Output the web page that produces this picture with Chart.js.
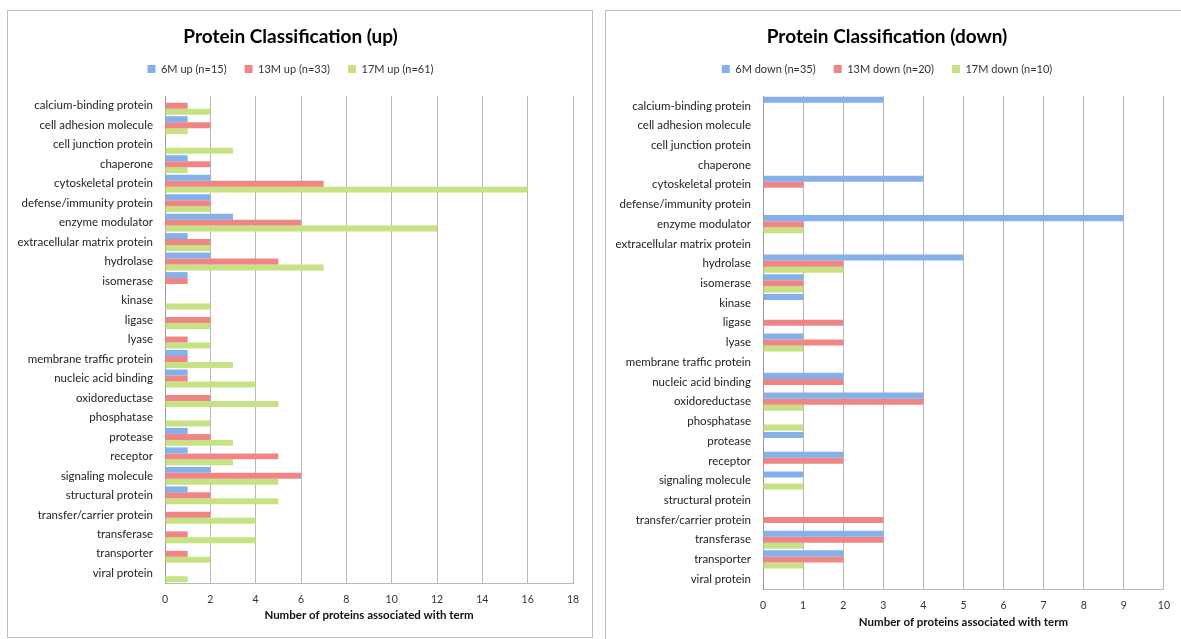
<!DOCTYPE html>
<html>
<head>
<meta charset="utf-8">
<script src="https://cdn.jsdelivr.net/npm/chart.js@4/dist/chart.umd.min.js"></script>
<style>
  html, body { margin: 0; padding: 0; background: #fff; }
  body { width: 1181px; height: 639px; position: relative; overflow: hidden; }
  .panel { position: absolute; border: 1px solid #bdbdbd; box-sizing: border-box; }
  #panel-up { left: 7px; top: 10px; width: 586px; height: 628px; }
  #panel-down { left: 605px; top: 10px; width: 590px; height: 640px; }
  .panel canvas { position: absolute; left: 0; top: 0; }
</style>
</head>
<body>
<div class="panel" id="panel-up"><canvas id="chart-up" width="584" height="626"></canvas></div>
<div class="panel" id="panel-down"><canvas id="chart-down" width="574" height="638"></canvas></div>
<script>
// categories, top to bottom
var categories = [
  'calcium-binding protein', 'cell adhesion molecule', 'cell junction protein', 'chaperone',
  'cytoskeletal protein', 'defense/immunity protein', 'enzyme modulator', 'extracellular matrix protein',
  'hydrolase', 'isomerase', 'kinase', 'ligase', 'lyase', 'membrane traffic protein',
  'nucleic acid binding', 'oxidoreductase', 'phosphatase', 'protease', 'receptor',
  'signaling molecule', 'structural protein', 'transfer/carrier protein', 'transferase',
  'transporter', 'viral protein'
];

// up-regulated
var up6M  = [0, 1, 0, 1, 2, 2, 3, 1, 2, 1, 0, 0, 0, 1, 1, 0, 0, 1, 1, 2, 1, 0, 0, 0, 0];
var up13M = [1, 2, 0, 2, 7, 2, 6, 2, 5, 1, 0, 2, 1, 1, 1, 2, 0, 2, 5, 6, 2, 2, 1, 1, 0];
var up17M = [2, 1, 3, 1, 16, 2, 12, 2, 7, 0, 2, 2, 2, 3, 4, 5, 2, 3, 3, 5, 5, 4, 4, 2, 1];

// down-regulated
var down6M  = [3, 0, 0, 0, 4, 0, 9, 0, 5, 1, 1, 0, 1, 0, 2, 4, 0, 1, 2, 1, 0, 0, 3, 2, 0];
var down13M = [0, 0, 0, 0, 1, 0, 1, 0, 2, 1, 0, 2, 2, 0, 2, 4, 0, 0, 2, 0, 0, 3, 3, 2, 0];
var down17M = [0, 0, 0, 0, 0, 0, 1, 0, 2, 1, 0, 0, 1, 0, 0, 1, 1, 0, 0, 1, 0, 0, 1, 1, 0];

var upLabels = ['6M up (n=15)', '13M up (n=33)', '17M up (n=61)'];
var downLabels = ['6M down (n=35)', '13M down (n=20)', '17M down (n=10)'];

var upTicks = { max: 18, step: 2 };
var downTicks = { max: 10, step: 1 };

var COLORS = ['#86b0ea', '#ef8585', '#c6e283'];
var DARK = ['#5f8fd6', '#d86262', '#a5c85e'];
var FONT = 'Lato, "Open Sans", sans-serif';

// bars get a light-to-dark band across their thickness
function barFill(i) {
  return function (ctx) {
    var el = ctx.element;
    if (!el || el.y === undefined || !el.height) return COLORS[i];
    var c = ctx.chart.ctx;
    var h = el.height / 2;
    var g = c.createLinearGradient(0, el.y - h, 0, el.y + h);
    g.addColorStop(0, COLORS[i]);
    g.addColorStop(0.5, COLORS[i]);
    g.addColorStop(1, DARK[i]);
    return g;
  };
}

var legendGap = {
  id: 'legendGap',
  beforeInit: function (chart) {
    var fit = chart.legend.fit;
    chart.legend.fit = function () {
      fit.bind(chart.legend)();
      this.height += 11.5;
    };
  }
};

function makeChart(id, title, labels, series, ticks, xHeight, rightPad, bottomPad) {
  var datasets = series.map(function (vals, i) {
    return {
      label: labels[i],
      data: vals,
      backgroundColor: barFill(i),
      borderWidth: 0,
      categoryPercentage: 0.92,
      barPercentage: 1.0
    };
  });
  return new Chart(document.getElementById(id), {
    type: 'bar',
    data: { labels: categories, datasets: datasets },
    plugins: [legendGap],
    options: {
      indexAxis: 'y',
      responsive: false,
      animation: false,
      layout: { padding: { left: 0, right: rightPad, top: 0, bottom: bottomPad } },
      plugins: {
        title: {
          display: true,
          text: title,
          color: '#000',
          font: { family: FONT, size: 19, weight: 'bold' },
          padding: { top: 14.6, bottom: -2.9 }
        },
        legend: {
          position: 'top',
          labels: {
            color: '#333',
            boxWidth: 8,
            boxHeight: 8,
            padding: 18,
            font: { family: FONT, size: 11 },
            generateLabels: function (chart) {
              return chart.data.datasets.map(function (d, i) {
                return {
                  text: d.label, fillStyle: COLORS[i], strokeStyle: COLORS[i],
                  lineWidth: 0, datasetIndex: i, fontColor: '#333'
                };
              });
            }
          }
        },
        tooltip: { enabled: false }
      },
      scales: {
        x: {
          min: 0,
          max: ticks.max,
          ticks: { stepSize: ticks.step, color: '#333', padding: 10, font: { family: FONT, size: 10.5 } },
          grid: { color: '#b8b8b8', drawTicks: false },
          border: { color: '#b8b8b8' },
          title: {
            display: true,
            text: 'Number of proteins associated with term',
            color: '#111',
            font: { family: FONT, size: 11.5, weight: 'bold' },
            padding: { top: 4, bottom: 4 }
          },
          afterFit: function (scale) { scale.height = xHeight; }
        },
        y: {
          ticks: { color: '#222', padding: 12, autoSkip: false, font: { family: FONT, size: 11.5 } },
          grid: { display: false, drawTicks: false },
          border: { color: '#999' },
          afterFit: function (scale) { scale.width = 157; }
        }
      }
    }
  });
}

makeChart('chart-up', 'Protein Classification (up)', upLabels, [up6M, up13M, up17M], upTicks, 43, 19, 11);
makeChart('chart-down', 'Protein Classification (down)', downLabels, [down6M, down13M, down17M], downTicks, 44, 12, 16);
</script>
</body>
</html>
